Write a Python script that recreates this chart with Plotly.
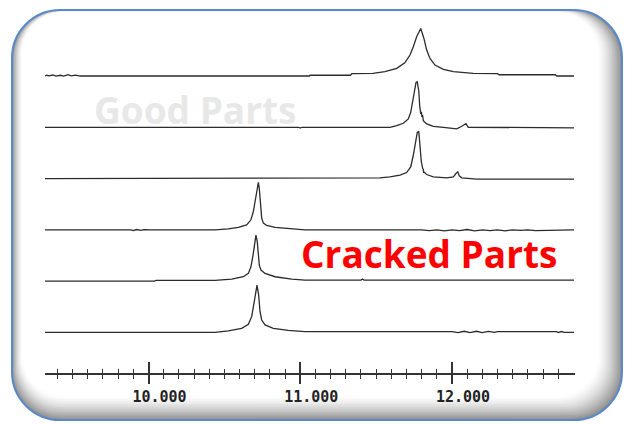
import plotly.graph_objects as go

# ---------------- data ----------------
major_ticks = [10, 11, 12]
major_labels = ["10.000", "11.000", "12.000"]
minor_ticks = [round(9.4 + 0.1 * k, 1) for k in range(34)]
minor_ticks = [t for t in minor_ticks if t not in (10.0, 11.0, 12.0)]

trace_offsets = [500, 400, 300, 200, 100, 0]

good1_x = [9.318, 9.33, 9.345, 9.37, 9.39, 9.42, 9.44, 9.47, 9.49, 9.52, 9.55, 9.66,
           11.06, 11.065, 11.33, 11.34, 11.479, 11.558, 11.636, 11.689, 11.723, 11.745,
           11.767, 11.794, 11.815, 11.833, 11.855, 11.888, 11.943, 12.009, 12.14, 12.30,
           12.31, 12.68, 12.69, 12.804]
good1_i = [0, 1.5, 0.5, 2.0, 0, 1.5, 0, 2.5, 0.5, 1.8, 0, 0,
           0, 1.5, 1.5, 4.5, 5.2, 8.4, 14.9, 25.9, 40.9, 57.1,
           76.5, 92.7, 73.3, 50.6, 34.4, 21.4, 13.0, 8.4, 5.2, 4.5,
           2.5, 2.5, 0, 0]

good2_x = [9.318, 10.99, 11.0, 11.01, 11.591, 11.636, 11.679, 11.712, 11.728, 11.741,
           11.752, 11.763, 11.771, 11.781, 11.787, 11.794, 11.798, 11.802, 11.806, 11.811,
           11.833, 11.877, 11.943, 12.031, 12.064, 12.092, 12.107, 12.163, 12.36, 12.37,
           12.804]
good2_i = [0, 0, -1.5, 0, 0, 3.2, 7.8, 16.2, 29.2, 51.9,
           71.3, 87.5, 88.8, 71.3, 42.2, 26.0, 30.0, 20.0, 24.0, 13.0,
           6.5, 1.9, 0, -3.2, 1.9, 7.1, 0, 0, 0, -1.0,
           -1.0]

good3_x = [9.318, 11.525, 11.591, 11.657, 11.701, 11.728, 11.745, 11.758, 11.771, 11.781,
           11.789, 11.798, 11.807, 11.811, 11.813, 11.815, 11.833, 11.877, 11.965, 12.009,
           12.026, 12.038, 12.048, 12.064, 12.163, 12.804]
good3_i = [0, 1.3, 3.2, 6.5, 11.7, 22.7, 45.4, 71.3, 89.5, 92.1,
           64.9, 32.4, 19.5, 18.0, 11.0, 13.0, 7.8, 3.2, 1.3, 3.2,
           9.7, 13.0, 5.2, 1.3, -1.3, -1.3]

cracked1_x = [9.318, 9.885, 9.90, 9.92, 9.95, 9.97, 10.01, 10.438, 10.526, 10.592,
              10.647, 10.675, 10.691, 10.704, 10.715, 10.724, 10.730, 10.737, 10.746, 10.757,
              10.779, 10.834, 10.944, 11.031, 11.80, 11.85, 11.90, 11.95, 12.0, 12.05,
              12.1, 12.15, 12.2, 12.25, 12.3, 12.35, 12.4, 12.45, 12.5, 12.55, 12.804]
cracked1_i = [0, 0, -1.5, 0.5, -1.0, 0.5, 0, 0, 1.9, 4.5,
              9.7, 19.5, 35.7, 58.4, 81.1, 92.7, 81.1, 48.6, 22.7, 13.0,
              8.4, 4.5, 1.9, 0, 0, -1.5, 0, -2.0, 0, -1.5,
              0.5, -2.0, 0, -1.5, 0, -2.0, 0, -1.0, 0, -1.5, 0]

cracked2_x = [9.318, 10.04, 10.05, 10.438, 10.548, 10.625, 10.658, 10.675, 10.689, 10.700,
              10.708, 10.717, 10.724, 10.730, 10.741, 10.768, 10.834, 10.944, 11.031, 11.40,
              11.41, 11.42, 12.804]
cracked2_i = [0, 0, 1.5, 1.5, 3.9, 8.4, 14.9, 27.9, 50.6, 76.5,
              89.5, 76.5, 44.1, 31.1, 21.4, 14.9, 8.4, 3.9, 1.9, 1.9,
              4.0, 1.9, 1.9]

cracked3_x = [9.318, 10.438, 10.526, 10.614, 10.658, 10.680, 10.693, 10.704, 10.715, 10.726,
              10.735, 10.746, 10.768, 10.822, 10.921, 11.031, 12.0, 12.04, 12.08, 12.12,
              12.16, 12.2, 12.24, 12.28, 12.3, 12.69, 12.70, 12.72, 12.74, 12.804]
cracked3_i = [0, 0, 2.6, 7.8, 15.6, 30.5, 53.2, 75.9, 92.1, 72.6,
              40.2, 24.0, 14.3, 7.8, 3.9, 1.3, 1.3, -0.5, 2.0, -0.5,
              2.0, -0.5, 1.8, 0, 1.3, 1.3, -0.5, 1.5, 0, 0]

series_x = [good1_x, good2_x, good3_x, cracked1_x, cracked2_x, cracked3_x]
series_i = [good1_i, good2_i, good3_i, cracked1_i, cracked2_i, cracked3_i]

label_good = "Good Parts"
label_cracked = "Cracked Parts"

# ---------------- layout geometry ----------------
W, H = 626, 424
L, R, T, B = 45, 51, 20, 51
x_range = [9.318, 12.8105]
y_range = [-79.4, 609.3]


def pp(px, py):
    return (px - L) / (W - L - R), (H - B - py) / (H - T - B)


def rr_path(x0, y0, x1, y1, r):
    k = 0.5523 * r
    segs = [
        ("M", [(x0 + r, y0)]),
        ("L", [(x1 - r, y0)]),
        ("C", [(x1 - r + k, y0), (x1, y0 + r - k), (x1, y0 + r)]),
        ("L", [(x1, y1 - r)]),
        ("C", [(x1, y1 - r + k), (x1 - r + k, y1), (x1 - r, y1)]),
        ("L", [(x0 + r, y1)]),
        ("C", [(x0 + r - k, y1), (x0, y1 - r + k), (x0, y1 - r)]),
        ("L", [(x0, y0 + r)]),
        ("C", [(x0, y0 + r - k), (x0 + r - k, y0), (x0 + r, y0)]),
    ]
    out = []
    for cmd, pts in segs:
        coords = []
        for (a, b) in pts:
            u, v = pp(a, b)
            coords.append(f"{u:.5f},{v:.5f}")
        out.append(cmd + " ".join(coords))
    return " ".join(out) + " Z"


shapes = []
N = 16
for n in range(N):
    t = n / (N - 1)
    g = int(round(255 - (255 - 145) * (1 - t) ** 1.5))
    col = f"rgb({g},{g},{g})"
    shapes.append(dict(
        type="path", xref="paper", yref="paper", layer="below",
        path=rr_path(12 + 10 * t, 10 + 2 * t, 622 - 24 * t, 420 - 24 * t, 48 - 6 * t),
        fillcolor=col, line=dict(width=0),
    ))
shapes.append(dict(
    type="path", xref="paper", yref="paper", layer="below",
    path=rr_path(12, 10, 622, 420, 48),
    fillcolor="rgba(0,0,0,0)", line=dict(color="#5a88c8", width=2),
))

fig = go.Figure()
for xs, ys, off in zip(series_x, series_i, trace_offsets):
    fig.add_trace(go.Scatter(
        x=xs, y=[v + off for v in ys], mode="lines",
        line=dict(color="#2b2b2b", width=1.3),
        hoverinfo="skip", showlegend=False,
    ))
fig.add_trace(go.Scatter(x=[None], y=[None], xaxis="x2", yaxis="y",
                         mode="lines", showlegend=False, hoverinfo="skip"))

gx, gy = pp(92, 109)
cx, cy = pp(299, 253)

fig.update_layout(
    width=W, height=H,
    margin=dict(l=L, r=R, t=T, b=B),
    paper_bgcolor="white", plot_bgcolor="rgba(0,0,0,0)",
    shapes=shapes,
    xaxis=dict(
        range=x_range, showgrid=False, zeroline=False,
        showline=True, linecolor="#333333", linewidth=1.5,
        tickmode="array", tickvals=major_ticks, ticktext=major_labels,
        ticks="outside", ticklen=9, tickwidth=1.5, tickcolor="#333333",
        ticklabelshift=11,
        tickfont=dict(family="DejaVu Sans Mono", size=15, color="#222222", weight="bold"),
        minor=dict(tickmode="array", tickvals=minor_ticks, ticks="outside",
                   ticklen=4, tickwidth=1.2, tickcolor="#333333", showgrid=False),
    ),
    xaxis2=dict(
        range=x_range, overlaying="x", anchor="y", side="bottom",
        showgrid=False, zeroline=False, showline=False,
        tickmode="array", tickvals=major_ticks, showticklabels=False,
        ticks="inside", ticklen=11, tickwidth=1.5, tickcolor="#333333",
        minor=dict(tickmode="array", tickvals=minor_ticks, ticks="inside",
                   ticklen=4, tickwidth=1.2, tickcolor="#333333", showgrid=False),
    ),
    yaxis=dict(range=y_range, visible=False, showgrid=False, zeroline=False),
    annotations=[
        dict(text=label_good, xref="paper", yref="paper", x=gx, y=gy,
             xanchor="left", yanchor="middle", showarrow=False,
             font=dict(family="Open Sans", size=37, color="#e8e8e8", weight="bold")),
        dict(text=label_cracked, xref="paper", yref="paper", x=cx, y=cy,
             xanchor="left", yanchor="middle", showarrow=False,
             font=dict(family="Open Sans", size=37, color="#ff0000", weight="bold")),
    ],
)

fig.write_html("out.html")
